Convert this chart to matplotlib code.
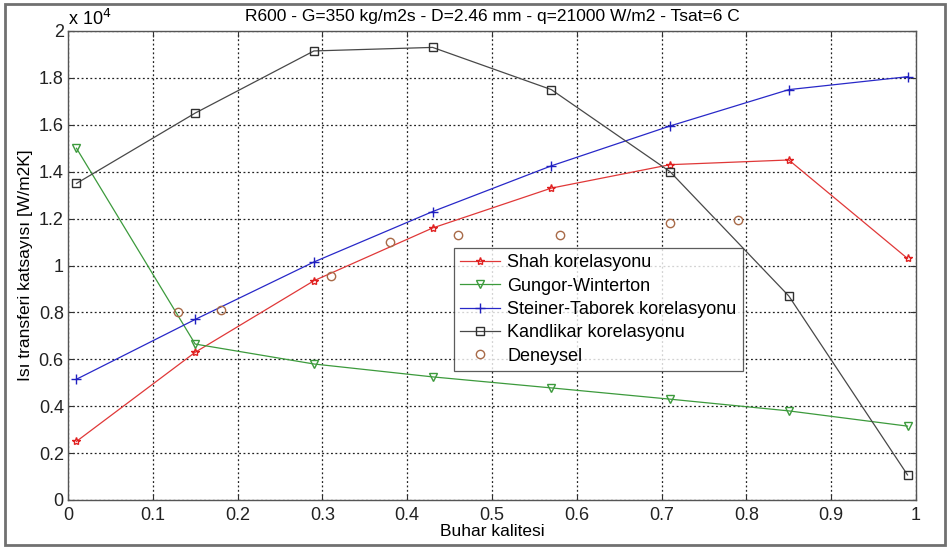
import matplotlib
matplotlib.use("Agg")
import matplotlib.pyplot as plt
from matplotlib.ticker import FuncFormatter, MultipleLocator
from matplotlib.patches import Rectangle

plt.rcParams['font.family'] = ['Liberation Sans', 'DejaVu Sans']

x_corr = [0.01, 0.15, 0.29, 0.43, 0.57, 0.71, 0.85, 0.99]
shah = [2500, 6300, 9350, 11600, 13300, 14300, 14500, 10300]
gungor = [15000, 6650, 5800, 5250, 4780, 4300, 3800, 3150]
steiner = [5150, 7700, 10150, 12300, 14250, 15950, 17500, 18050]
kandlikar = [13500, 16500, 19150, 19300, 17500, 14000, 8700, 1070]
x_exp = [0.13, 0.18, 0.31, 0.38, 0.46, 0.58, 0.71, 0.79]
deneysel = [8000, 8100, 9550, 11000, 11300, 11300, 11800, 11950]

title = "R600 - G=350 kg/m2s - D=2.46 mm - q=21000 W/m2 - Tsat=6 C"

fig = plt.figure(figsize=(9.49, 5.49), dpi=100)
ax = fig.add_axes([68/949, 1-500/549, 848/949, 469/549])

ax.plot(x_corr, shah, color='#e03838', lw=0.9, marker='*', ms=6, mfc='none', mec='#e02020', label='Shah korelasyonu')
ax.plot(x_corr, gungor, color='#3c9a3c', lw=0.9, marker='v', ms=6, mfc='none', mec='#3c9a3c', label='Gungor-Winterton')
ax.plot(x_corr, steiner, color='#2828c8', lw=0.9, marker='+', ms=7, mec='#2020c0', label='Steiner-Taborek korelasyonu')
ax.plot(x_corr, kandlikar, color='#484848', lw=0.9, marker='s', ms=5.5, mfc='none', mec='#303030', label='Kandlikar korelasyonu')
ax.plot(x_exp, deneysel, ls='none', marker='o', ms=6, mfc='none', mec='#a86a48', label='Deneysel')

ax.set_xlim(0, 1)
ax.set_ylim(0, 20000)
ax.xaxis.set_major_locator(MultipleLocator(0.1))
ax.yaxis.set_major_locator(MultipleLocator(2000))
ax.xaxis.set_major_formatter(FuncFormatter(lambda v, p: '%g' % round(v, 2)))
ax.yaxis.set_major_formatter(FuncFormatter(lambda v, p: '%g' % round(v/1e4, 2)))
ax.tick_params(direction='in', length=4, labelsize=13, top=True, right=True, colors='#303030', labelcolor='#222222')
ax.tick_params(axis='x', pad=5)
ax.tick_params(axis='y', pad=3)
ax.grid(True, color='#222222', ls=(0, (1.5, 2.0)), lw=0.9)
for s in ax.spines.values():
    s.set_color('#555555')
    s.set_linewidth(1.0)

ax.set_title(title, fontsize=12.5, pad=7)
ax.set_xlabel('Buhar kalitesi', fontsize=12.5, labelpad=0)
ax.set_ylabel('Isı transferi katsayısı [W/m2K]', fontsize=12.5, labelpad=4)
ax.text(0.0, 1.005, r'x 10$^4$', transform=ax.transAxes, fontsize=13, ha='left', va='bottom')

leg = ax.legend(loc='lower left', bbox_to_anchor=(0.455, 0.275), fontsize=13, frameon=True,
                fancybox=False, edgecolor='#333333', borderpad=0.35, labelspacing=0.35,
                handlelength=2.2, handletextpad=0.4, borderaxespad=0)
leg.get_frame().set_linewidth(0.9)

fig.patches.append(Rectangle((5/949, 4/549), 940/949, 541/549, transform=fig.transFigure,
                             fill=False, edgecolor='#707070', lw=2.0))

fig.savefig('out.png', dpi=100)
